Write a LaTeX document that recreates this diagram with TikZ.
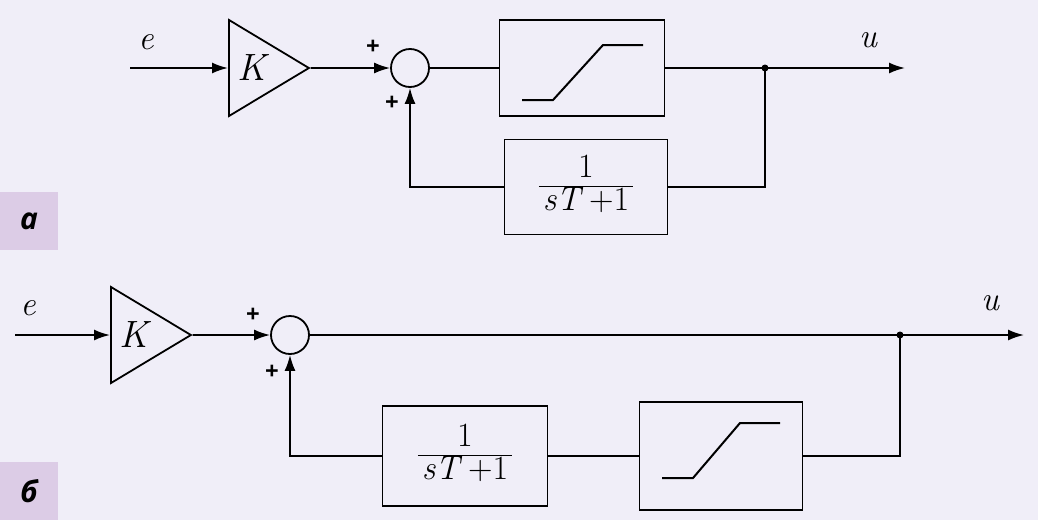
\documentclass[tikz,border=0pt]{standalone}
\usetikzlibrary{shapes.geometric,arrows.meta}
\usepackage{fontspec}
\newfontfamily\lblfont{Open Sans}
\newcommand{\myfrac}{{\setlength{\arrayrulewidth}{1.5pt}\renewcommand{\arraystretch}{0.82}\begin{tabular}{@{\hspace{4pt}}c@{\hspace{4pt}}}1\\\hline \textit{sT}\,+1\end{tabular}}}
\begin{document}
\begin{tikzpicture}[x=1pt,y=-1pt,line width=1.8pt,
  blk/.style={draw,minimum width=165pt,minimum height=96pt,inner sep=0},
  gain/.style={draw,isosceles triangle,isosceles triangle apex angle=62,minimum height=80pt,inner sep=0,font=\fontsize{38}{38}\selectfont\itshape},
  sum/.style={draw,circle,minimum size=38pt,inner sep=0},
  txt/.style={font=\fontsize{34}{34}\selectfont\itshape},
  frc/.style={font=\fontsize{34}{36}\selectfont},
  pl/.style={font=\fontsize{24}{24}\selectfont\lblfont\bfseries},
  arr/.style={-{Latex[length=16pt,width=11pt]}},
  lbl/.style={fill=lbl,minimum size=58pt,inner sep=0,font=\fontsize{30}{30}\selectfont\lblfont\bfseries\itshape}]
\definecolor{bg}{HTML}{F0EEF8}\definecolor{lbl}{HTML}{DCCCE6}
\fill[bg] (0,0) rectangle (1038,520);
\useasboundingbox (0,0) rectangle (1038,520);
\node[lbl] (la) at (29,221) {а};
\node[lbl] (lb) at (29,491) {б};
% a
\node[txt] (ea) at (146,42) {e};
\coordinate (ina) at (130,68);
\node[gain,anchor=west] (ka) at (228,68) {\hspace*{-2pt}K};
\node[sum] (sa) at (410,68) {};
\node[blk] (sata) at (582,68) {};
\draw[line width=2pt] (522,100) -- (553,100) -- (603,45) -- (643,45);
\coordinate (ja) at (765,68);
\coordinate (oa) at (905,68);
\node[txt] (ua) at (868,40) {u};
\node[blk,frc,minimum width=163pt,minimum height=95pt] (fa) at (586,187) {\myfrac};
\node[pl] at (373,47) {+};
\node[pl] at (392,103) {+};
\draw[arr] (ina) -- (ka.west);
\draw[arr] (ka.apex) -- (sa.west);
\draw (sa.east) -- (sata.west);
\draw[arr] (sata.east) -- (oa);
\fill (ja) circle (3.5pt);
\draw (ja) |- (fa.east);
\draw[arr] (fa.west) -| (sa.south);
% b
\node[txt] (eb) at (28,308) {e};
\coordinate (inb) at (15,335);
\node[gain,anchor=west] (kb) at (110,335) {\hspace*{-2pt}K};
\node[sum] (sb) at (290,335) {};
\coordinate (jb) at (900,335);
\coordinate (ob) at (1024,335);
\node[txt] (ub) at (990,303) {u};
\node[blk,minimum width=163pt,minimum height=108pt] (satb) at (721,456) {};
\draw[line width=2pt] (662,478) -- (693,478) -- (740,423) -- (780,423);
\node[blk,frc,minimum width=165pt,minimum height=100pt] (fb) at (465,456) {\myfrac};
\node[pl] at (253,315) {+};
\node[pl] at (272,372) {+};
\draw[arr] (inb) -- (kb.west);
\draw[arr] (kb.apex) -- (sb.west);
\draw[arr] (sb.east) -- (ob);
\fill (jb) circle (3.5pt);
\draw (jb) |- (satb.east);
\draw (satb.west) -- (fb.east);
\draw[arr] (fb.west) -| (sb.south);
\end{tikzpicture}
\end{document}
